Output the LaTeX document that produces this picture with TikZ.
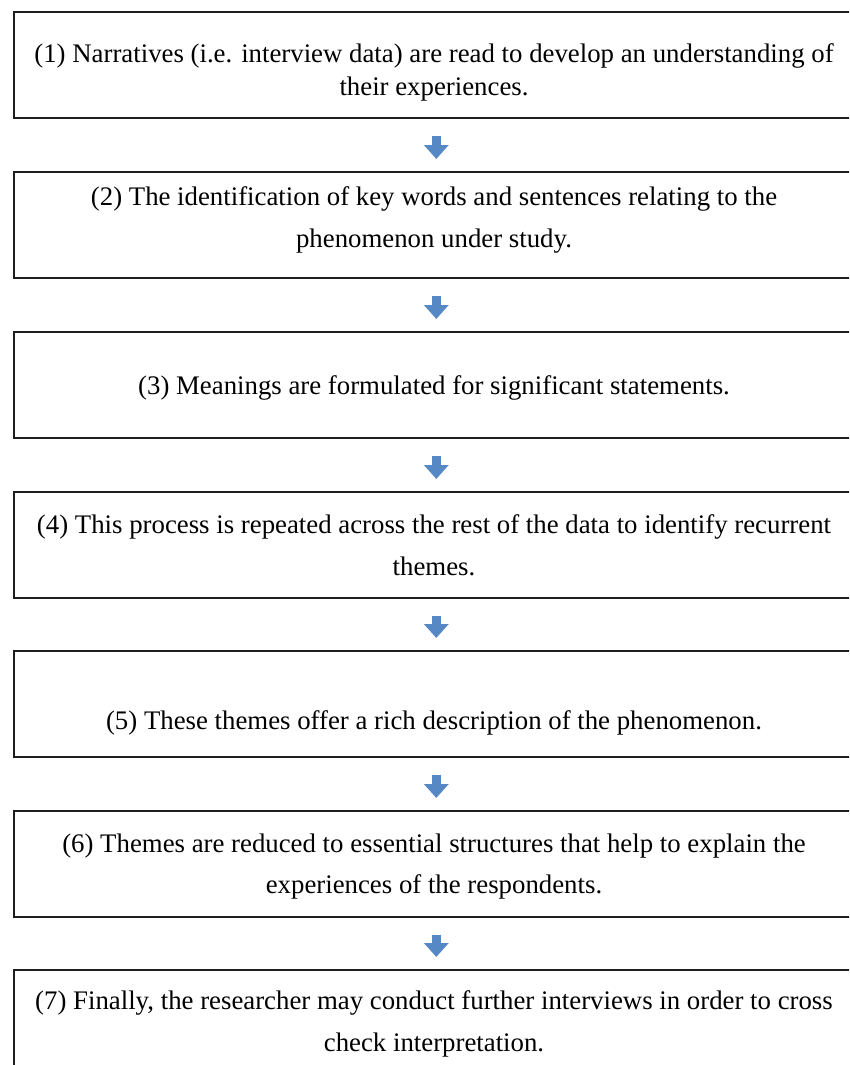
\documentclass[tikz,border=0pt]{standalone}
\usepackage{fontspec}
\setmainfont{Liberation Serif}
\usetikzlibrary{arrows.meta}
\definecolor{flowblue}{RGB}{86,136,198}
\definecolor{edgegray}{RGB}{30,30,30}
\begin{document}
\begin{tikzpicture}[x=1pt,y=-1pt,
  stage/.style={draw=edgegray, line width=1.6pt, minimum width=845pt,
    minimum height=106pt, anchor=north west, inner sep=0pt},
  caption/.style={font=\fontsize{26.8}{26.8}\selectfont, anchor=base, inner sep=0pt},
  flow/.style={draw=flowblue, line width=9.5pt,
    -{Triangle[width=24pt,length=14pt]}, shorten <=17pt, shorten >=12pt}]
\useasboundingbox (0,0) rectangle (849,1065);
\fill[white] (0,0) rectangle (849,1065);
\clip (0,0) rectangle (849,1065);

% stage boxes
\node[stage] (b1) at (13,11) {};
\node[stage] (b2) at (13,171) {};
\node[stage] (b3) at (13,331) {};
\node[stage] (b4) at (13,491) {};
\node[stage] (b5) at (13,650) {};
\node[stage] (b6) at (13,810) {};
\node[stage] (b7) at (13,969) {};

% stage texts
\node[caption] (t1a) at (434,63) {(1) Narratives (i.e. interview data) are read to develop an understanding of};
\node[caption] (t1b) at (434,95) {their experiences.};
\node[caption] (t2a) at (434,205) {(2) The identification of key words and sentences relating to the};
\node[caption] (t2b) at (434,247) {phenomenon under study.};
\node[caption] (t3a) at (434,394) {(3) Meanings are formulated for significant statements.};
\node[caption] (t4a) at (434,533) {(4) This process is repeated across the rest of the data to identify recurrent};
\node[caption] (t4b) at (434,575) {themes.};
\node[caption] (t5a) at (434,729) {(5) These themes offer a rich description of the phenomenon.};
\node[caption] (t6a) at (434,852) {(6) Themes are reduced to essential structures that help to explain the};
\node[caption] (t6b) at (434,893) {experiences of the respondents.};
\node[caption] (t7a) at (434,1009) {(7) Finally, the researcher may conduct further interviews in order to cross};
\node[caption] (t7b) at (434,1051) {check interpretation.};

% connecting arrows
\draw[flow] (b1.south) -- (b2.north);
\draw[flow] (b2.south) -- (b3.north);
\draw[flow] (b3.south) -- (b4.north);
\draw[flow] (b4.south) -- (b5.north);
\draw[flow] (b5.south) -- (b6.north);
\draw[flow] (b6.south) -- (b7.north);
\end{tikzpicture}
\end{document}
